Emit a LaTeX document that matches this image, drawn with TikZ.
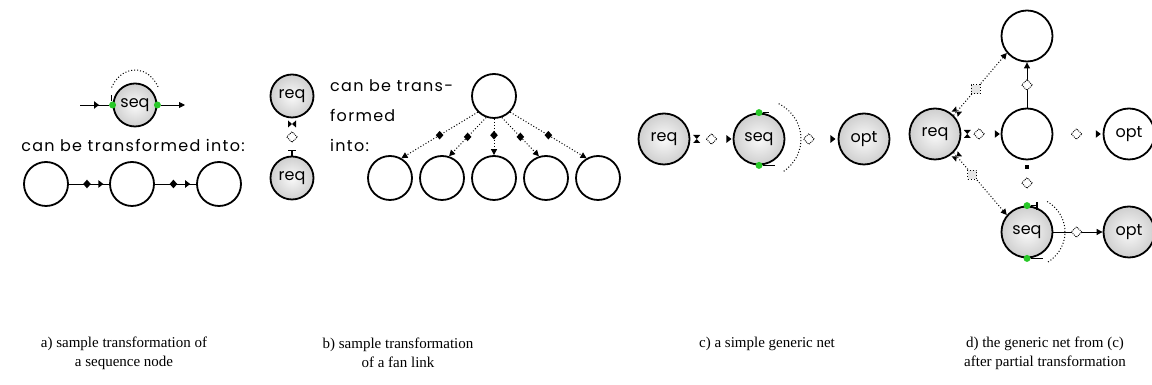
\documentclass[tikz,border=0pt]{standalone}
\usepackage{fontspec}
\setmainfont{Liberation Serif}
\newfontfamily\pixfont[LetterSpace=8]{Poppins}
\newfontfamily\pixlabel{Poppins}
\usetikzlibrary{arrows.meta,shapes.geometric,calc}
\definecolor{dotgreen}{RGB}{40,200,40}
\begin{document}
\begin{tikzpicture}[x=1pt,y=1pt,
  gnode/.style={circle,draw=black,line width=1.8pt,inner color=gray!4,outer color=gray!38,inner sep=0pt,minimum size=#1,font=\pixlabel\fontsize{16}{16}\selectfont},
  gnode/.default=43pt,
  enode/.style={circle,draw=black,line width=1.8pt,fill=white,inner sep=0pt,minimum size=#1,font=\pixlabel\fontsize{16}{16}\selectfont},
  enode/.default=44pt,
  gdot/.style={circle,fill=dotgreen,inner sep=0pt,minimum size=7pt},
  fdiam/.style={diamond,fill=black,inner sep=0pt,minimum width=8pt,minimum height=9pt},
  hdiam/.style={diamond,draw=black,densely dotted,line width=0.9pt,fill=white,inner sep=0pt,minimum size=11pt},
  hsq/.style={rectangle,draw=black,line width=0.8pt,fill=gray!20,inner sep=0pt,minimum size=9pt},
  tipmark/.style={isosceles triangle,isosceles triangle apex angle=75,fill=black,inner sep=0pt,minimum height=5pt,minimum width=7pt},
  solidlink/.style={line width=0.9pt},
  dotlink/.style={line width=1pt,dotted},
  tarrow/.style={-{Triangle[length=6pt,width=6pt]}},
  pixtext/.style={font=\pixfont\fontsize{16}{16}\selectfont,inner sep=0pt},
  captext/.style={font=\fontsize{15}{19}\selectfont,align=center},
  pics/hglass/.style={code={\fill (-3.5,4)--(3.5,4)--(0,0)--cycle (-3.5,-4)--(3.5,-4)--(0,0)--cycle;}}
]
\useasboundingbox (0,0) rectangle (1152,385);

% ---------- panel a ----------
\node[gnode] (sa) at (135,280) {seq};
\node[gdot] (sal) at (sa.west) {};
\node[gdot] (sar) at (sa.east) {};
\coordinate (ain) at (80,280);
\coordinate (aout) at (185,280);
\draw[solidlink] (ain) -- (sal) node[tipmark,pos=0.55,sloped] (at0) {};
\draw[solidlink,tarrow] (sar) -- (aout);
\draw[line width=1pt] ([xshift=-1pt]sal.north) -- ++(0,6);
\draw[dotlink] ([shift={(150:27 and 35)}]sa.center) arc[start angle=150,end angle=28,x radius=27,y radius=35];
\node[pixtext,anchor=base] (atext) at (133,233) {can be transformed into:};
\node[enode] (a1) at (46,201) {};
\node[enode] (a2) at (132,201) {};
\node[enode] (a3) at (219,201) {};
\draw[solidlink] (a1) -- (a2) node[fdiam,pos=0.45] (ad1) {} node[tipmark,pos=0.78,sloped] (at1) {};
\draw[solidlink] (a2) -- (a3) node[fdiam,pos=0.45] (ad2) {} node[tipmark,pos=0.78,sloped] (at2) {};

% ---------- panel b ----------
\node[gnode] (br1) at (292,289) {req};
\node[gnode] (br2) at (292,207) {req};
\path (br1) -- (br2) pic[pos=0.15,sloped]{hglass} node[hdiam,pos=0.5] (bd0) {};
\draw[line width=1.2pt] (br2.north) -- ++(0,5) coordinate (bT);
\draw[line width=1.4pt] ($(bT)+(-4,0)$) -- ($(bT)+(4,0)$);
\node[pixtext,anchor=base west] (btx1) at (330,293) {can be trans-};
\node[pixtext,anchor=base west] (btx2) at (330,263) {formed};
\node[pixtext,anchor=base west] (btx3) at (330,233) {into:};
\node[enode] (bt) at (494,289) {};
\node[enode] (bb1) at (390,207) {};
\node[enode] (bb2) at (442,207) {};
\node[enode] (bb3) at (494,207) {};
\node[enode] (bb4) at (546,207) {};
\node[enode] (bb5) at (598,207) {};
\draw[dotlink,tarrow] (bt.225) -- (bb1.60) node[fdiam,pos=0.5] (bd1) {};
\draw[dotlink,tarrow] (bt.250) -- (bb2.72) node[fdiam,pos=0.5] (bd2) {};
\draw[dotlink,tarrow] (bt.south) -- (bb3.north) node[fdiam,pos=0.45] (bd3) {};
\draw[dotlink,tarrow] (bt.290) -- (bb4.108) node[fdiam,pos=0.5] (bd4) {};
\draw[dotlink,tarrow] (bt.315) -- (bb5.120) node[fdiam,pos=0.5] (bd5) {};

% ---------- panel c ----------
\node[gnode=51pt] (creq) at (664,246) {req};
\node[gnode=51pt] (cseq) at (759,246) {seq};
\node[gnode=51pt] (copt) at (864,246) {opt};
\path (creq) -- (cseq) pic[pos=0.15,sloped]{hglass} node[hdiam,pos=0.5] (cd1) {} node[tipmark,pos=0.9,sloped] (ct1) {};
\node[gdot] (cgn) at (cseq.north) {};
\node[gdot] (cgs) at (cseq.south) {};
\draw[solidlink] (cgs) -- ++(16,0);
\draw[solidlink] (cgn) -- ++(10,0);
\draw[dotlink] ([shift={(62:42 and 40)}]cseq.center) arc[start angle=62,end angle=-55,x radius=42,y radius=40];
\path (cseq) -- (copt) node[hdiam,pos=0.45] (cd2) {} node[tipmark,pos=0.9,sloped] (ct2) {};

% ---------- panel d ----------
\node[enode=51pt] (dT) at (1027,349) {};
\node[gnode=51pt] (dreq) at (935,251) {req};
\node[enode=51pt] (dM) at (1027,251) {};
\node[enode=51pt] (dopt1) at (1129,251) {opt};
\node[gnode=51pt] (dseq) at (1027,153) {seq};
\node[gnode=51pt] (dopt2) at (1129,153) {opt};
\draw[dotlink,tarrow] (dreq.45) -- (dT.220) node[hsq,pos=0.42] (ds1) {};
\draw[dotlink,tarrow] (dreq.-45) -- (dseq.140) node[hsq,pos=0.35] (ds2) {};
\path (dreq.45) -- (dT.220) pic[pos=0.06,sloped]{hglass};
\path (dreq.-45) -- (dseq.140) pic[pos=0.06,sloped]{hglass};
\path (dreq) -- (dM) pic[pos=0.15,sloped]{hglass} node[hdiam,pos=0.45] (dd1) {} node[tipmark,pos=0.9,sloped] (dt1) {};
\draw[solidlink,tarrow] (dM) -- (dT) node[hdiam,pos=0.5] (dd2) {};
\path (dM) -- (dseq) node[rectangle,fill=black,inner sep=0pt,minimum size=4pt,pos=0.15] (dsq) {} node[hdiam,pos=0.5] (dd3) {};
\path (dM) -- (dopt1) node[hdiam,pos=0.47] (dd4) {} node[tipmark,pos=0.9,sloped] (dt2) {};
\draw[solidlink,tarrow] (dseq) -- (dopt2) node[hdiam,pos=0.47] (dd5) {};
\node[gdot] (dgn) at (dseq.north) {};
\node[gdot] (dgs) at (dseq.south) {};
\draw[solidlink] (dgn) -- ++(10,0) coordinate (dgnE);
\draw[line width=1.2pt] ($(dgnE)+(0,-4)$) -- ($(dgnE)+(0,4)$);
\draw[solidlink] (dgs) -- ++(16,0);
\draw[dotlink] ([shift={(58:38 and 36)}]dseq.center) arc[start angle=58,end angle=-58,x radius=38,y radius=36];

% ---------- captions ----------
\node[captext] (capa) at (124,32) {a) sample transformation of\\a sequence node};
\node[captext] (capb) at (398,32) {b) sample transformation\\of a fan link};
\node[captext,anchor=north] (capc) at (767,51) {c) a simple generic net};
\node[captext] (capd) at (1045,32) {d) the generic net from (c)\\after partial transformation};
\end{tikzpicture}
\end{document}
